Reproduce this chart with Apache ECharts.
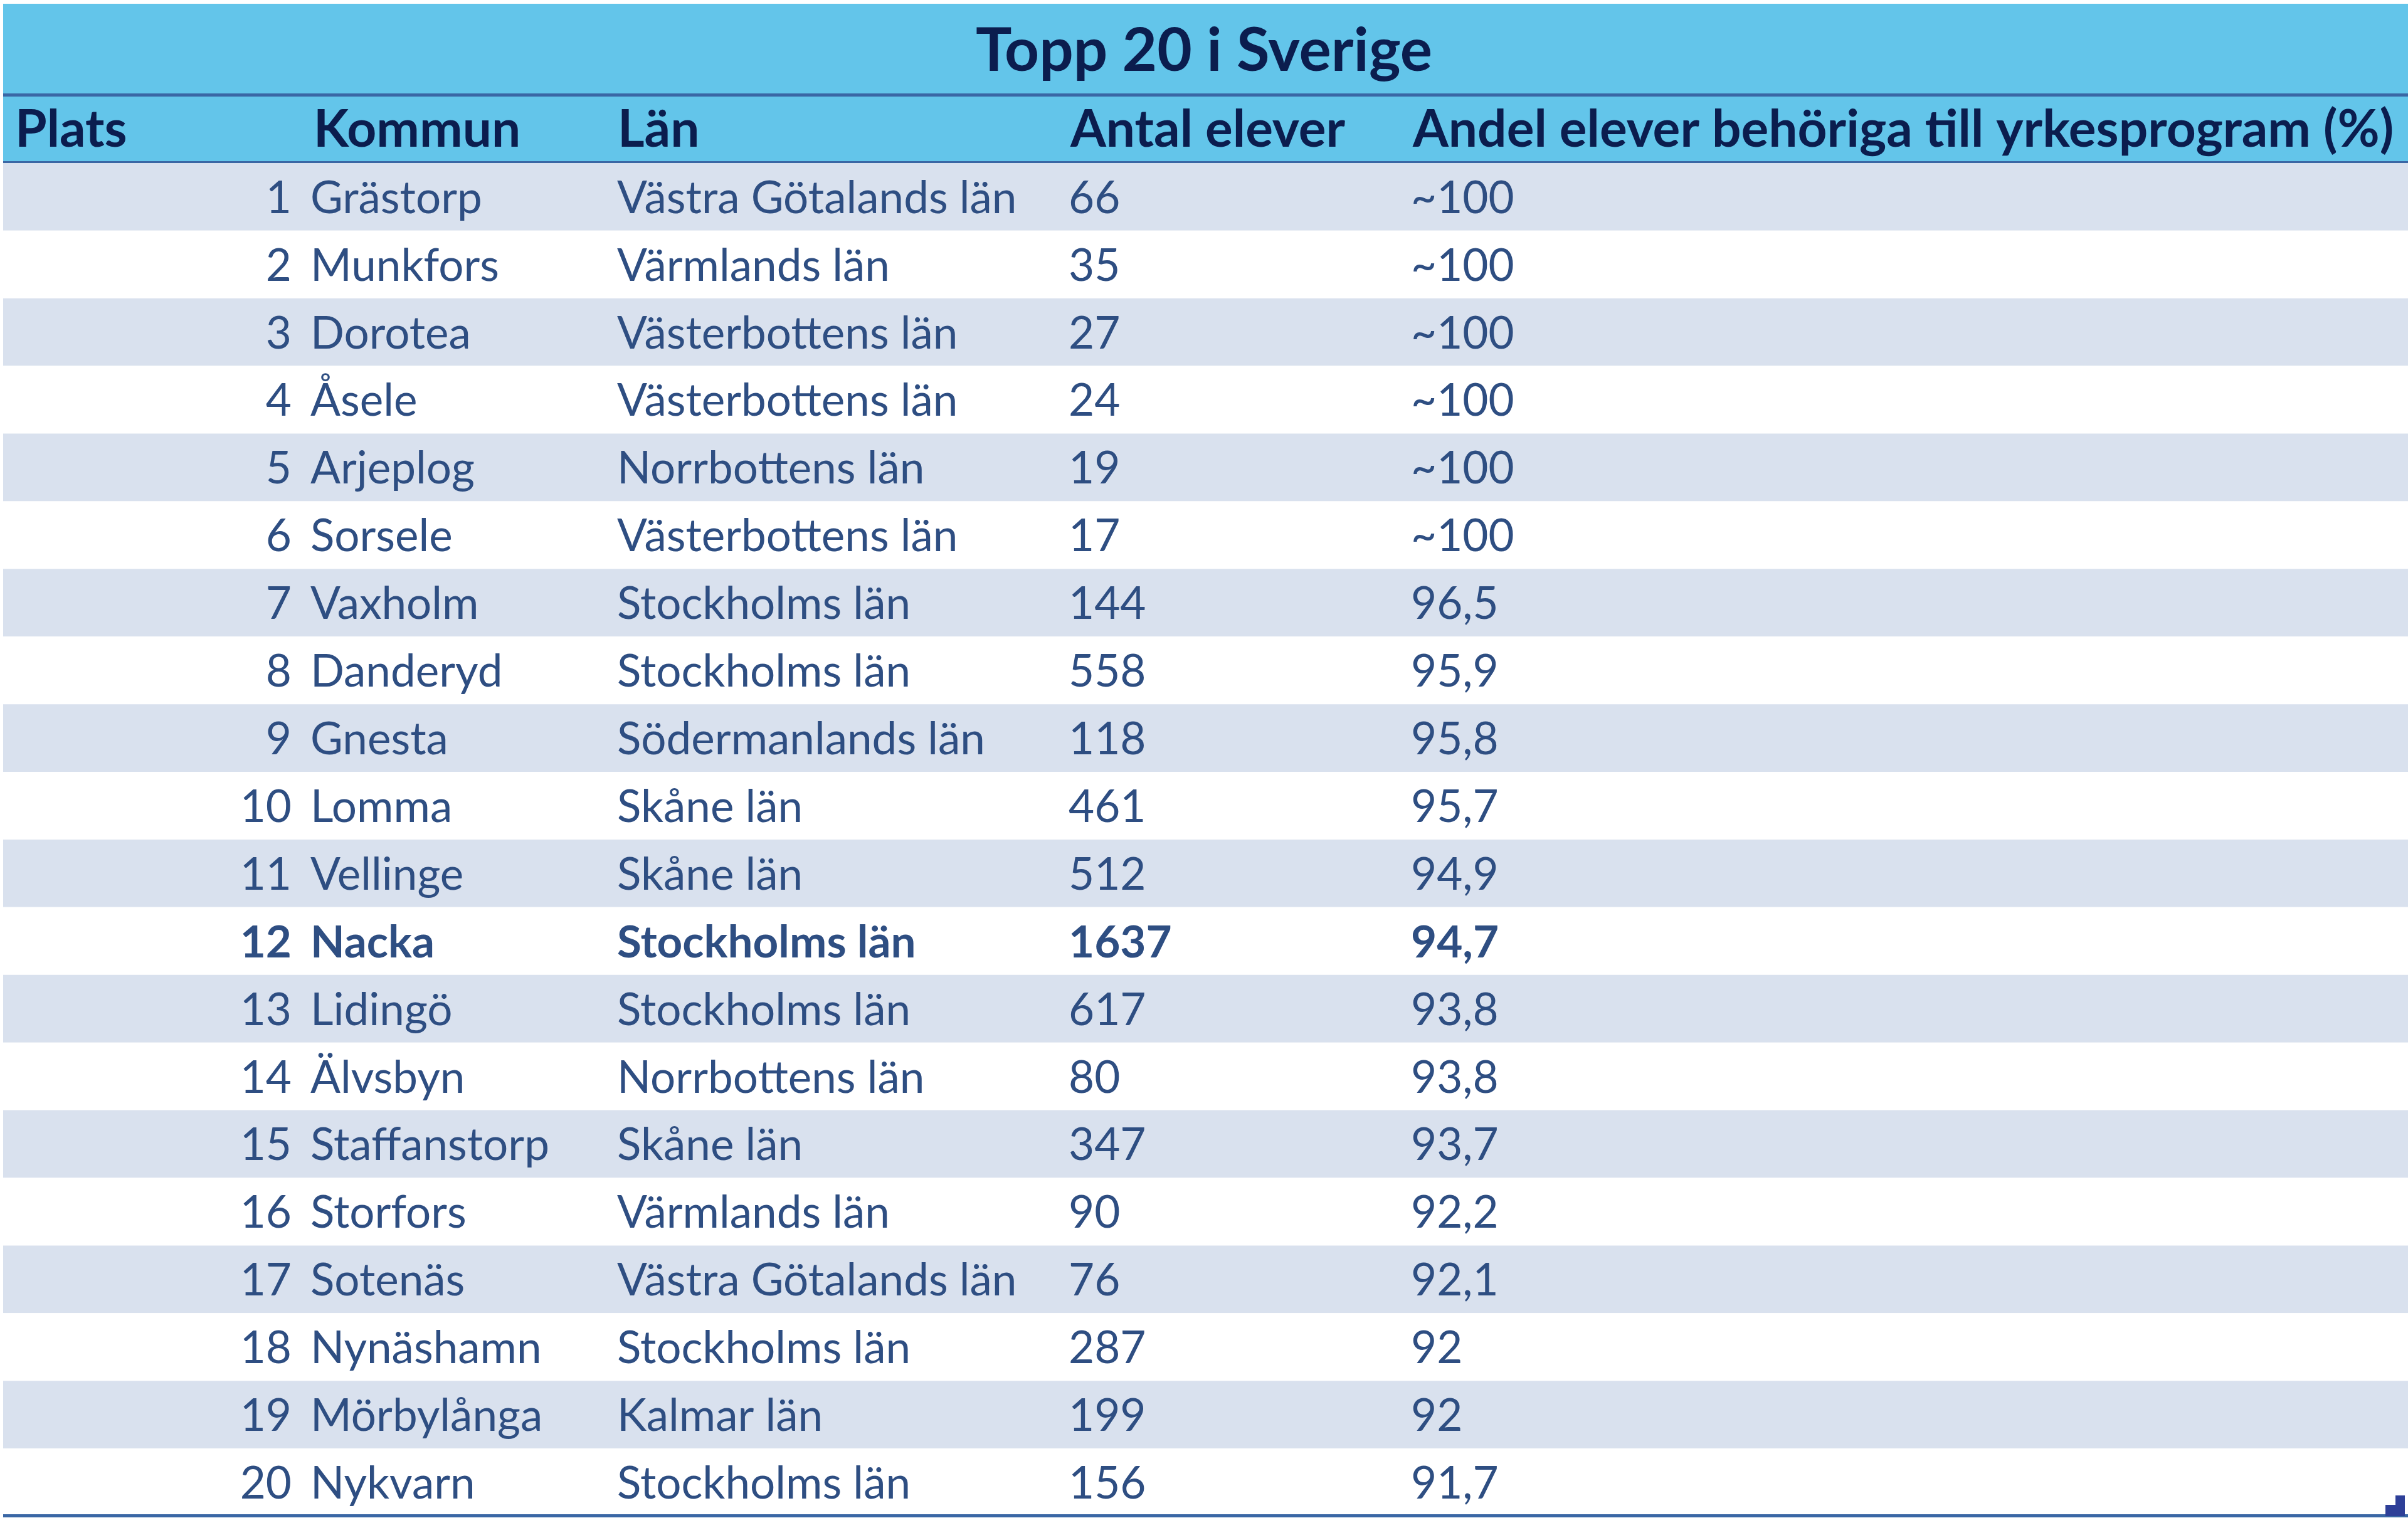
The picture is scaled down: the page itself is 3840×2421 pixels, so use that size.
<!DOCTYPE html>
<html>
<head>
<meta charset="utf-8">
<script src="https://cdn.jsdelivr.net/npm/echarts@6/dist/echarts.min.js"></script>
<style>
html, body { margin: 0; padding: 0; background: #fff; }
#main { width: 3840px; height: 2421px; }
</style>
</head>
<body>
<div id="main"></div>
<script>
// tabellens innehåll
const titleText = 'Topp 20 i Sverige';
const headers = ['Plats', 'Kommun', 'Län', 'Antal elever', 'Andel elever behöriga till yrkesprogram (%)'];
const plats = [1, 2, 3, 4, 5, 6, 7, 8, 9, 10, 11, 12, 13, 14, 15, 16, 17, 18, 19, 20];
const kommun = ['Grästorp', 'Munkfors', 'Dorotea', 'Åsele', 'Arjeplog', 'Sorsele', 'Vaxholm', 'Danderyd',
    'Gnesta', 'Lomma', 'Vellinge', 'Nacka', 'Lidingö', 'Älvsbyn', 'Staffanstorp', 'Storfors',
    'Sotenäs', 'Nynäshamn', 'Mörbylånga', 'Nykvarn'];
const lan = ['Västra Götalands län', 'Värmlands län', 'Västerbottens län', 'Västerbottens län',
    'Norrbottens län', 'Västerbottens län', 'Stockholms län', 'Stockholms län', 'Södermanlands län',
    'Skåne län', 'Skåne län', 'Stockholms län', 'Stockholms län', 'Norrbottens län', 'Skåne län',
    'Värmlands län', 'Västra Götalands län', 'Stockholms län', 'Kalmar län', 'Stockholms län'];
const antal = [66, 35, 27, 24, 19, 17, 144, 558, 118, 461, 512, 1637, 617, 80, 347, 90, 76, 287, 199, 156];
const andel = ['~100', '~100', '~100', '~100', '~100', '~100', '96,5', '95,9', '95,8', '95,7',
    '94,9', '94,7', '93,8', '93,8', '93,7', '92,2', '92,1', '92', '92', '91,7'];
const boldPlats = 12;

const rowNames = ['header'].concat(plats.map(String));

// utseende
const cyan = '#63C5EA';
const stripe = '#D9E1EE';
const lineCol = '#3A67A5';
const headCol = '#0B1D4E';
const bodyCol = '#2E4E82';
const font = 'Lato';
const headX = [24, 500, 985, 1707, 2253];
const cellX = [465, 495, 984, 1704, 2250];

var myChart = echarts.init(document.getElementById('main'), null, { renderer: 'canvas' });

function renderRow(params, api) {
    const r = api.value(0);
    const p0 = api.coord([5, r]);
    const p1 = api.coord([3840, r]);
    const h = api.size([0, 1])[1];
    const yTop = p0[1] - h / 2;
    const yMid = p0[1];
    const children = [];

    let bg = '#ffffff';
    if (r === 0) bg = cyan;
    else if (r % 2 === 1) bg = stripe;
    children.push({
        type: 'rect',
        shape: { x: p0[0], y: yTop, width: p1[0] - p0[0], height: h },
        style: { fill: bg }
    });

    if (r === 0) {
        // linjer ovanför och under rubrikraden
        children.push({ type: 'rect', shape: { x: p0[0], y: yTop - 3, width: p1[0] - p0[0], height: 5 }, style: { fill: lineCol } });
        children.push({ type: 'rect', shape: { x: p0[0], y: yTop + h - 3, width: p1[0] - p0[0], height: 5 }, style: { fill: lineCol } });
        headers.forEach(function (t, i) {
            const p = api.coord([headX[i], r]);
            children.push({
                type: 'text',
                style: {
                    x: p[0], y: yMid + 2, text: t,
                    font: 'bold 82px ' + font, fill: headCol,
                    textAlign: 'left', textVerticalAlign: 'middle'
                }
            });
        });
        return { type: 'group', children: children };
    }

    const i = r - 1;
    const bold = plats[i] === boldPlats;
    const f = (bold ? 'bold ' : '') + '71px ' + font;
    const vals = [String(plats[i]), kommun[i], lan[i], String(antal[i]), andel[i]];
    vals.forEach(function (t, c) {
        const p = api.coord([cellX[c], r]);
        children.push({
            type: 'text',
            style: {
                x: p[0], y: yMid + 3, text: t, font: f, fill: bodyCol,
                textAlign: c === 0 ? 'right' : 'left', textVerticalAlign: 'middle'
            }
        });
    });
    if (r === rowNames.length - 1) {
        children.push({ type: 'rect', shape: { x: p0[0], y: yTop + h - 3, width: p1[0] - p0[0], height: 5 }, style: { fill: lineCol } });
    }
    return { type: 'group', children: children };
}

var option = {
    animation: false,
    backgroundColor: '#ffffff',
    title: {
        text: titleText,
        left: 'center',
        top: 32,
        padding: 0,
        textStyle: { fontFamily: font, fontWeight: 'bold', fontSize: 96, lineHeight: 100, color: headCol }
    },
    graphic: [
        { type: 'rect', z: -1, shape: { x: 5, y: 6, width: 3835, height: 146 }, style: { fill: cyan } },
        {
            type: 'polygon', z: 10,
            shape: { points: [[3804, 2400], [3820, 2400], [3820, 2385], [3835, 2385], [3835, 2418], [3804, 2418]] },
            style: { fill: '#2E3F98' }
        }
    ],
    grid: { left: 0, right: 0, top: 152, bottom: 3, containLabel: false },
    xAxis: { type: 'value', min: 0, max: 3840, show: false },
    yAxis: { type: 'category', data: rowNames, inverse: true, show: false },
    series: [{
        type: 'custom',
        renderItem: renderRow,
        encode: { y: 0 },
        data: rowNames.map(function (d, i) { return [i]; }),
        silent: true
    }]
};
myChart.setOption(option);
</script>
</body>
</html>
